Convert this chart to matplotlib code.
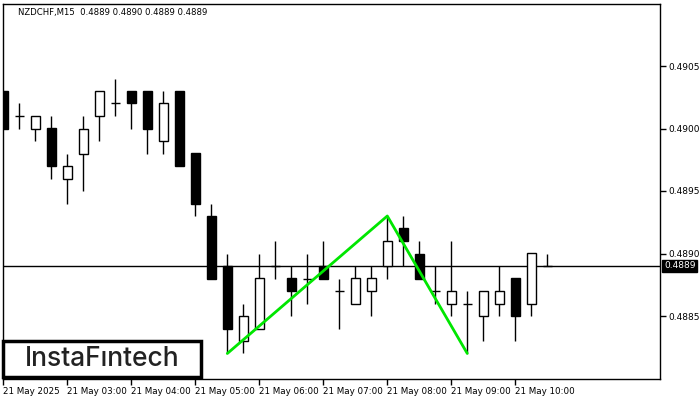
import matplotlib
matplotlib.use("Agg")
import matplotlib.pyplot as plt

# ---- data ----
opens  = [0.4903, 0.4901, 0.4900, 0.4900, 0.4896, 0.4898, 0.4901, 0.4902, 0.4903, 0.4903,
          0.4899, 0.4903, 0.4898, 0.4893, 0.4889, 0.4883, 0.4884, 0.4889, 0.4888, 0.4888,
          0.4889, 0.4887, 0.4886, 0.4887, 0.4889, 0.4892, 0.4890, 0.4887, 0.4886, 0.4886,
          0.4885, 0.4886, 0.4888, 0.4886, 0.4889]
highs  = [0.4903, 0.4902, 0.4901, 0.4901, 0.4898, 0.4901, 0.4903, 0.4904, 0.4903, 0.4903,
          0.4903, 0.4903, 0.4898, 0.4894, 0.4890, 0.4886, 0.4890, 0.4891, 0.4889, 0.4890,
          0.4891, 0.4888, 0.4889, 0.4889, 0.4893, 0.4893, 0.4891, 0.4889, 0.4891, 0.4887,
          0.4887, 0.4889, 0.4888, 0.4890, 0.4890]
lows   = [0.4900, 0.4900, 0.4899, 0.4896, 0.4894, 0.4895, 0.4899, 0.4901, 0.4900, 0.4898,
          0.4898, 0.4897, 0.4893, 0.4888, 0.4882, 0.4882, 0.4884, 0.4888, 0.4885, 0.4886,
          0.4888, 0.4884, 0.4886, 0.4885, 0.4888, 0.4889, 0.4888, 0.4886, 0.4885, 0.4882,
          0.4883, 0.4885, 0.4883, 0.4885, 0.4889]
closes = [0.4900, 0.4901, 0.4901, 0.4897, 0.4897, 0.4900, 0.4903, 0.4902, 0.4902, 0.4900,
          0.4902, 0.4897, 0.4894, 0.4888, 0.4884, 0.4885, 0.4888, 0.4889, 0.4887, 0.4888,
          0.4888, 0.4887, 0.4888, 0.4888, 0.4891, 0.4891, 0.4888, 0.4887, 0.4887, 0.4886,
          0.4887, 0.4887, 0.4885, 0.4890, 0.4889]

tick_idx = [0, 4, 8, 12, 16, 20, 24, 28, 32]
tick_labels = ["21 May 2025", "21 May 03:00", "21 May 04:00", "21 May 05:00",
               "21 May 06:00", "21 May 07:00", "21 May 08:00", "21 May 09:00",
               "21 May 10:00"]
y_ticks = [0.4885, 0.4890, 0.4895, 0.4900, 0.4905]
current_price = 0.4889

pattern_idx = [14, 24, 29]
pattern_price = [0.4882, 0.4893, 0.4882]

title = "NZDCHF,M15  0.4889 0.4890 0.4889 0.4889"

# ---- figure ----
W, H = 700, 400
fig = plt.figure(figsize=(7, 4), dpi=100)
left_px, right_px, top_px, bot_px = 3, 660, 3.5, 378.5
ax = fig.add_axes([left_px / W, 1 - bot_px / H, (right_px - left_px) / W, (bot_px - top_px) / H])

px_per_bar = 16.0
x0_px = 3.3
ax.set_xlim((left_px - x0_px) / px_per_bar, (right_px - x0_px) / px_per_bar)
ax.set_ylim(0.4880, 0.4910)

bw = 0.6
for i, (o, h, l, c) in enumerate(zip(opens, highs, lows, closes)):
    ax.vlines(i, l, h, color="black", lw=1, zorder=2)
    if abs(c - o) < 1e-9:
        ax.hlines(o, i - bw / 2, i + bw / 2, color="black", lw=1, zorder=3)
    else:
        fc = "white" if c > o else "black"
        ax.bar(i, abs(c - o), bottom=min(o, c), width=bw, facecolor=fc,
               edgecolor="black", lw=1, zorder=3)

ax.axhline(current_price, color="black", lw=1, zorder=1)

ax.plot(pattern_idx, pattern_price, color="#00e600", lw=2, zorder=5,
        solid_capstyle="round")

# axes styling
for s in ax.spines.values():
    s.set_linewidth(1)
    s.set_color("black")
ax.yaxis.tick_right()
ax.set_yticks(y_ticks)
ax.set_yticklabels([f"{v:.4f}" for v in y_ticks], fontsize=6.5, family="DejaVu Sans")
ax.tick_params(axis="y", length=4, width=1, pad=2, colors="black")
ax.set_xticks(tick_idx)
ax.set_xticklabels(tick_labels, fontsize=6.3, family="DejaVu Sans", ha="left")
ax.tick_params(axis="x", length=4, width=1, pad=2)
for lab in ax.get_xticklabels():
    lab.set_horizontalalignment("left")

# current price label
ax.annotate(f"{current_price:.4f}", xy=(1, current_price), xycoords=("axes fraction", "data"),
            xytext=(3, 0), textcoords="offset points", ha="left", va="center",
            fontsize=6.5, color="white", family="DejaVu Sans",
            bbox=dict(boxstyle="square,pad=0.2", fc="black", ec="black"), zorder=10,
            annotation_clip=False)

# title
ax.text(15 / (right_px - left_px), 1 - 4 / (bot_px - top_px), title,
        transform=ax.transAxes, fontsize=6.1, va="top", ha="left", family="DejaVu Sans")

# logo
fig.patches.append(plt.Rectangle((3 / W, 1 - 377 / H), 198 / W, 36 / H,
                                 transform=fig.transFigure, fc="white", ec="black",
                                 lw=2.5, zorder=20))
fig.text(102 / W, 1 - 359.5 / H, "InstaF\u0131ntech", ha="center", va="center",
         fontsize=19, color="#222222", family="Inter", fontweight="medium", zorder=21)

fig.savefig("out.png", dpi=100)
